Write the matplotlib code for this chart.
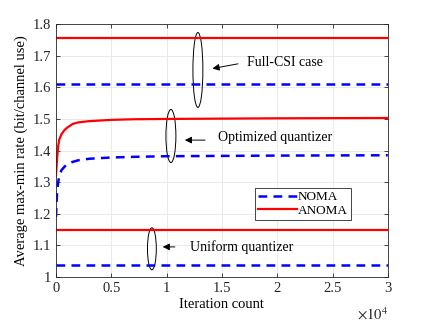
import matplotlib.pyplot as plt
from matplotlib.patches import Ellipse
from matplotlib.ticker import FuncFormatter

plt.rcParams['font.family'] = ['Liberation Serif', 'DejaVu Serif']
plt.rcParams['mathtext.fontset'] = 'stix'

# data
iters = [0, 100, 200, 300, 500, 800, 1000, 1500, 2000, 3000, 5000, 7000, 10000, 15000, 20000, 30000]
anoma_opt = [1.32, 1.375, 1.415, 1.435, 1.452, 1.466, 1.472, 1.484, 1.489, 1.493, 1.497, 1.499, 1.500, 1.501, 1.502, 1.503]
noma_opt = [1.19, 1.27, 1.30, 1.32, 1.338, 1.350, 1.355, 1.364, 1.369, 1.374, 1.378, 1.380, 1.382, 1.383, 1.384, 1.385]
anoma_full = 1.755
noma_full = 1.61
anoma_unif = 1.148
noma_unif = 1.037
x_max = 30000

fig = plt.figure(figsize=(4.29, 3.22), dpi=100)
ax = fig.add_axes([0.1305, 0.14, 0.7735, 0.785])

blue = '#0000ff'
red = '#ff0000'
dash = (3.5, 2.5)
ax.plot([0, x_max], [noma_full, noma_full], '--', color=blue, lw=1.8, dashes=dash)
ax.plot(iters, noma_opt, '--', color=blue, lw=1.8, dashes=dash)
ax.plot([0, x_max], [noma_unif, noma_unif], '--', color=blue, lw=1.8, dashes=dash, label='NOMA')
ax.plot([0, x_max], [anoma_full, anoma_full], color=red, lw=1.6)
ax.plot(iters, anoma_opt, color=red, lw=1.6)
ax.plot([0, x_max], [anoma_unif, anoma_unif], color=red, lw=1.6, label='ANOMA')

# annotation ellipses and arrows
ellipses = [(12830, 1.655, 900, 0.237), (10390, 1.446, 900, 0.168), (8670, 1.089, 800, 0.133)]
for cx, cy, w, h in ellipses:
    ax.add_patch(Ellipse((cx, cy), w, h, fill=False, ec='black', lw=0.7))

notes = [('Full-CSI case', (17260, 1.68), (13900, 1.658), (16700, 1.676)),
         ('Optimized quantizer', (14640, 1.44), (11400, 1.433), (13730, 1.433)),
         ('Uniform quantizer', (12100, 1.095), (9400, 1.095), (11000, 1.095))]
for txt, tpos, tip, tail in notes:
    ax.text(tpos[0], tpos[1], txt, fontsize=10, va='center', ha='left')
    ax.annotate('', xy=tip, xytext=tail,
                arrowprops=dict(arrowstyle='-|>', color='black', lw=0.7,
                                mutation_scale=10))

ax.set_xlim(0, x_max)
ax.set_ylim(1, 1.8)
ax.set_xticks([0, 5000, 10000, 15000, 20000, 25000, 30000])
ax.set_yticks([1, 1.1, 1.2, 1.3, 1.4, 1.5, 1.6, 1.7, 1.8])
ax.xaxis.set_major_formatter(FuncFormatter(lambda v, p: '%g' % (v / 1e4)))
ax.yaxis.set_major_formatter(FuncFormatter(lambda v, p: '%g' % v))
ax.tick_params(direction='in', top=True, right=True, labelsize=10.5,
               colors='#262626', length=3, width=0.6)
for s in ax.spines.values():
    s.set_color('#262626')
    s.set_linewidth(0.6)
ax.grid(True, color='#e6e6e6', lw=0.6)
ax.set_axisbelow(True)

ax.set_xlabel('Iteration count', fontsize=10.5, labelpad=2)
ax.set_ylabel('Average max-min rate (bit/channel use)', fontsize=10.5, labelpad=3)
ax.text(1.0, -0.115, r'$\times10^4$', transform=ax.transAxes, fontsize=10.5,
        ha='right', va='top', color='#262626')

leg = ax.legend(loc='lower left', bbox_to_anchor=(0.6, 0.225), fontsize=9.5,
                fancybox=False, framealpha=1, edgecolor='#262626',
                handlelength=2.9, handletextpad=0.1, borderpad=0.25,
                labelspacing=0.1, borderaxespad=0)
leg.get_frame().set_linewidth(0.6)

fig.savefig('out.png', dpi=100)
